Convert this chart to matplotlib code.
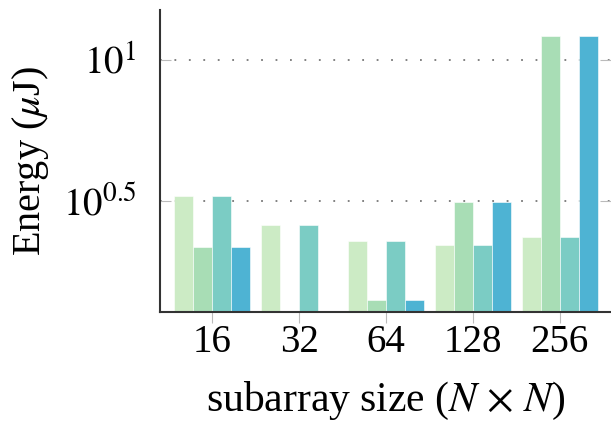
# energy per subarray size, four configurations, log y axis
import numpy as np
import matplotlib
matplotlib.use("Agg")
import matplotlib.pyplot as plt

plt.rcParams['font.family'] = ['Liberation Serif', 'DejaVu Serif']
plt.rcParams['mathtext.fontset'] = 'stix'

sizes = ['16', '32', '64', '128', '256']
cfg_a = [3.30, 2.59, 2.28, 2.21, 2.36]
cfg_b = [2.17, np.nan, 1.41, 3.14, 12.2]
cfg_c = [3.30, 2.59, 2.28, 2.21, 2.36]
cfg_d = [2.17, np.nan, 1.41, 3.14, 12.2]
colors = ['#ccebc5', '#a8ddb5', '#7bccc4', '#4eb3d3']

fig = plt.figure(figsize=(6.11, 4.22), dpi=100)
ax = fig.add_axes([160/611, 1 - 312/422, 1 - 160/611, (312 - 10)/422])

x = np.arange(len(sizes))
w = 0.218
for i, (vals, c) in enumerate(zip([cfg_a, cfg_b, cfg_c, cfg_d], colors)):
    ax.bar(x + (i - 1.5) * w, vals, w, color=c, edgecolor='white', linewidth=0.4, zorder=2)

ax.set_yscale('log')
ax.set_ylim(10**0.1055, 10**1.179)
ax.set_xlim(-0.6, 4.59)
ax.set_yticks([10**0.5, 10])
ax.set_yticklabels(['$10^{0.5}$', '$10^{1}$'])
ax.yaxis.set_minor_locator(matplotlib.ticker.NullLocator())
ax.set_xticks(x)
ax.set_xticklabels(sizes)

ax.grid(axis='y', linestyle=(0, (1, 7)), color='#777777', linewidth=1.3, zorder=1)
ax.tick_params(axis='y', which='major', direction='in', length=8, color='#bbbbbb',
               labelsize=28, left=True, right=True, pad=17)
ax.tick_params(axis='x', direction='out', length=8, color='#bbbbbb', labelsize=28, pad=1)

for s in ['top', 'right']:
    ax.spines[s].set_visible(False)
for s in ['left', 'bottom']:
    ax.spines[s].set_color('#333333')
    ax.spines[s].set_linewidth(1.5)

ax.set_ylabel('Energy ($\\mu$J)', fontsize=29, labelpad=8)
ax.set_xlabel('subarray size ($N$ $\\times$ $N$)', fontsize=30, labelpad=13)

fig.savefig('out.png', dpi=100)
